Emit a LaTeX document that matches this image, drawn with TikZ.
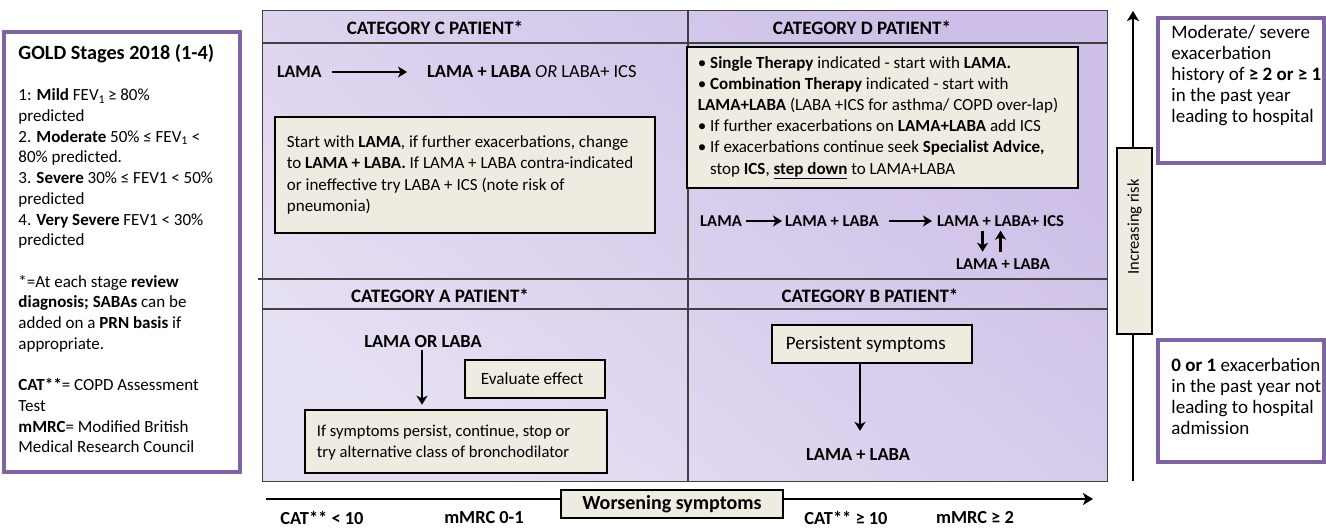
\documentclass[tikz,border=0pt]{standalone}
\usepackage{fontspec}
\setmainfont{Carlito}
\usetikzlibrary{arrows.meta,calc}
\definecolor{purpleB}{HTML}{8064A2}
\definecolor{beige}{HTML}{EEECE1}
\definecolor{lavD}{HTML}{CDBFE7}
\definecolor{lavL}{HTML}{E6E0F3}
\definecolor{gridline}{HTML}{404040}
\tikzset{
  txt/.style={inner sep=0pt, align=left},
  hdr/.style={inner sep=0pt, font=\fontsize{19}{22}\selectfont\bfseries},
  bld/.style={inner sep=0pt, font=\fontsize{18.4}{22}\selectfont\bfseries},
  chain/.style={inner sep=0pt, font=\fontsize{16.6}{20}\selectfont\bfseries},
  tbox/.style={draw=black, line width=2.6pt, fill=beige, inner sep=0pt},
  sbox/.style={draw=black, line width=1.1pt, fill=beige, inner sep=0pt},
  pbox/.style={draw=purpleB, line width=3.5pt, fill=white, inner sep=0pt},
  arr/.style={line width=2.4pt, -{Stealth[length=9pt,width=11pt,inset=2.5pt]}},
  axis/.style={line width=2.6pt, -{Stealth[length=10pt,width=12pt,inset=2.5pt]}},
}
\begin{document}
\begin{tikzpicture}[x=1pt,y=-1pt]
\useasboundingbox (0,0) rectangle (1326,528);

% ---------- main grid ----------
\shade[top color=lavD, bottom color=lavL, shading angle=-40] (262,10) rectangle (1107,481);
\draw[gridline, line width=1pt] (262,10) rectangle (1107,481);
\draw[gridline, line width=1.1pt] (688,10) -- (688,481);
\draw[gridline, line width=1.1pt] (262,43) -- (1107,43);
\draw[gridline, line width=1.1pt] (258,279) -- (1107,279);
\draw[gridline, line width=1.1pt] (262,309) -- (1107,309);

% headers
\node[hdr] (hC) at (435,28) {CATEGORY C PATIENT*};
\node[hdr] (hD) at (862,28) {CATEGORY D PATIENT*};
\node[hdr] (hA) at (440,296) {CATEGORY A PATIENT*};
\node[hdr] (hB) at (870,296) {CATEGORY B PATIENT*};

% ---------- C ----------
\node[inner sep=0pt, font=\fontsize{17.7}{20}\selectfont\bfseries, anchor=west] (cL) at (277,72) {LAMA};
\node[inner sep=0pt, font=\fontsize{18.4}{22}\selectfont, anchor=west] (cR) at (427,72)
  {\textbf{LAMA + LABA} \textit{OR} LABA+ ICS};
\draw[arr] ([xshift=10pt]cL.east) -- ([xshift=-20pt]cR.west);
\node[tbox, minimum width=380pt, minimum height=116pt] (cbox) at (465,175) {};
\node[txt, anchor=west, font=\fontsize{17}{21.3}\selectfont] (ctext) at ([xshift=13pt]cbox.west)
  {Start with \textbf{LAMA}, if further exacerbations, change\\
   to \textbf{LAMA + LABA.} If LAMA + LABA contra-indicated\\
   or ineffective try LABA + ICS (note risk of\\
   pneumonia)};

% ---------- D ----------
\node[tbox, minimum width=391pt, minimum height=141pt] (dbox) at (882.5,117.5) {};
\node[txt, anchor=west, font=\fontsize{17}{21.2}\selectfont] (dtext) at ([xshift=12pt]dbox.west)
  {\textbullet\ \textbf{Single Therapy} indicated - start with \textbf{LAMA.}\\
   \textbullet\ \textbf{Combination Therapy} indicated - start with\\
   \textbf{LAMA+LABA} (LABA +ICS for asthma/ COPD over-lap)\\
   \textbullet\ If further exacerbations on \textbf{LAMA+LABA} add ICS\\
   \textbullet\ If exacerbations continue seek \textbf{Specialist Advice,}\\
   \phantom{\textbullet\ }stop \textbf{ICS}, \underline{\textbf{step down}} to LAMA+LABA};
\node[chain, anchor=west] (d1) at (700,221) {LAMA};
\node[chain, anchor=west] (d2) at (785,221) {LAMA + LABA};
\node[chain, anchor=west] (d3) at (937,221) {LAMA + LABA+ ICS};
\node[chain] (d4) at (1003,264) {LAMA + LABA};
\draw[arr] ([xshift=4pt]d1.east) -- ([xshift=-3pt]d2.west);
\draw[arr] ([xshift=10pt]d2.east) -- ([xshift=-5pt]d3.west);
\draw[arr] ($(d3.south)+(-18,4)$) -- ($(d3.south)+(-18,25)$);
\draw[arr] ($(d3.south)+(0,25)$) -- ($(d3.south)+(0,4)$);

% ---------- A ----------
\node[bld] (alab) at (423,342) {LAMA OR LABA};
\node[tbox, minimum width=302pt, minimum height=63pt] (abox) at (456,441.5) {};
\node[txt, anchor=west, font=\fontsize{16.6}{21}\selectfont] (atext) at ([xshift=13pt,yshift=-1.5pt]abox.west)
  {If symptoms persist, continue, stop or\\ try alternative class of bronchodilator};
\node[tbox, minimum width=140pt, minimum height=38pt] (ebox) at (535,379) {};
\node[txt, anchor=west, font=\fontsize{17.2}{21}\selectfont] (etext) at ([xshift=17pt]ebox.west) {Evaluate effect};
\draw[arr] ([xshift=-1pt,yshift=-2pt]alab.south) -- ([xshift=-1pt,yshift=4pt]alab.south |- abox.north);

% ---------- B ----------
\node[tbox, minimum width=200pt, minimum height=38pt] (pbx) at (872,344) {};
\node[txt, anchor=west, font=\fontsize{19}{21}\selectfont] (ptext) at ([xshift=15pt]pbx.west) {Persistent symptoms};
\node[bld] (blab) at (858,455) {LAMA + LABA};
\draw[arr] ([xshift=-12pt]pbx.south) -- ([xshift=2pt,yshift=18pt]blab.north);

% ---------- bottom axis ----------
\coordinate (axL) at (266,499);
\coordinate (axR) at (1093,499);
\draw[axis] (axL) -- (axR);
\node[sbox, minimum width=222pt, minimum height=28pt, font=\fontsize{20}{22}\selectfont\bfseries] (wors) at (672,504) {Worsening symptoms};
\node[bld] (cat1) at (322,518) {CAT** < 10};
\node[bld] (mm1) at (484,518) {mMRC 0-1};
\node[bld] (cat2) at (846,518) {CAT** ≥ 10};
\node[bld] (mm2) at (975,518) {mMRC ≥ 2};

% ---------- right risk axis ----------
\coordinate (rB) at (1133,481);
\coordinate (rT) at (1133,11);
\draw[axis] (rB) -- (rT);
\node[sbox, minimum width=35pt, minimum height=186pt] (risk) at (1134.5,241) {};
\node[inner sep=0pt, rotate=90, font=\fontsize{16.5}{18}\selectfont] (risktext) at (1134.5,227) {Increasing risk};

\node[pbox, minimum width=166pt, minimum height=145pt] (trb) at (1241,90.5) {};
\node[txt, anchor=north west, font=\fontsize{19}{21}\selectfont] (trt) at ($(trb.north west)+(15,8.5)$)
  {Moderate/ severe\\ exacerbation\\ history of \textbf{≥ 2 or ≥ 1}\\ in the past year\\ leading to hospital};
\node[pbox, minimum width=166pt, minimum height=122pt] (brb) at (1241,401) {};
\node[txt, anchor=north west, font=\fontsize{19}{21}\selectfont] (brt) at ($(brb.north west)+(15,20)$)
  {\textbf{0 or 1} exacerbation\\ in the past year not\\ leading to hospital\\ admission};

% ---------- left GOLD box ----------
\node[pbox, minimum width=236pt, minimum height=440pt] (gold) at (122,252) {};
\node[txt, anchor=north west, font=\fontsize{17}{20.7}\selectfont] (gtext) at ($(gold.north west)+(16,14)$)
  {{\fontsize{20.2}{20.7}\selectfont\bfseries GOLD Stages 2018 (1-4)}\\[20.7pt]
   1: \textbf{Mild} FEV\textsubscript{1}\,≥ 80\%\\
   predicted\\
   2. \textbf{Moderate} 50\% ≤ FEV\textsubscript{1} <\\
   80\% predicted.\\
   3. \textbf{Severe} 30\% ≤ FEV1 < 50\%\\
   predicted\\
   4. \textbf{Very Severe} FEV1 < 30\%\\
   predicted\\[20.7pt]
   *=At each stage \textbf{review}\\
   \textbf{diagnosis; SABAs} can be\\
   added on a \textbf{PRN basis} if\\
   appropriate.\\[20.7pt]
   \textbf{CAT**}= COPD Assessment\\
   Test\\
   \textbf{mMRC}= Modified British\\
   Medical Research Council};
\end{tikzpicture}
\end{document}
